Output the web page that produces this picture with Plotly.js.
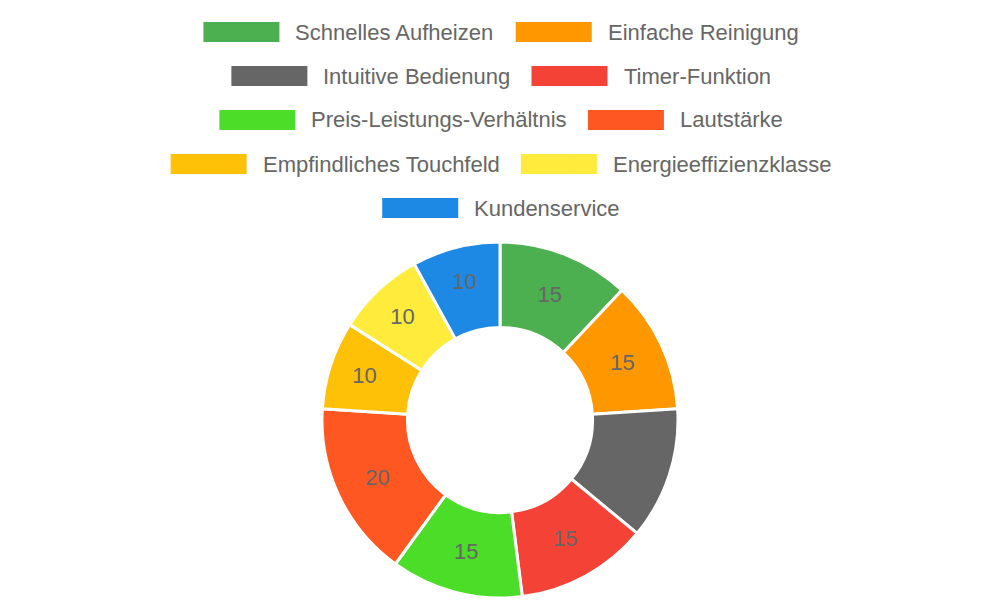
<!DOCTYPE html>
<html>
<head>
<meta charset="utf-8">
<script src="https://cdn.plot.ly/plotly-3.0.1.min.js"></script>
<style>html,body{margin:0;padding:0;background:#fff}#chart{width:1000px;height:600px}</style>
</head>
<body>
<div id="chart"></div>
<script>
var labels = ['Schnelles Aufheizen', 'Einfache Reinigung', 'Intuitive Bedienung', 'Timer-Funktion',
  'Preis-Leistungs-Verhältnis', 'Lautstärke', 'Empfindliches Touchfeld', 'Energieeffizienzklasse', 'Kundenservice'];
var values = [15, 15, 15, 15, 15, 20, 10, 10, 10];
var colors = ['#4CAF50', '#FF9800', '#666666', '#F44336', '#4CDD28', '#FF5722', '#FFC107', '#FFEB3B', '#1E88E5'];

var W = 1000, H = 600;
var font = '22px "Liberation Sans", Arial, sans-serif';
var ctx = document.createElement('canvas').getContext('2d');
ctx.font = font;

// legend: 2 items per row, centered
var shapes = [], annotations = [];
var rectW = 76, rectH = 20, gapText = 14, gapItem = 23, rowH = 44, firstRow = 32;
for (var r = 0; r * 2 < labels.length; r++) {
  var items = labels.slice(r * 2, r * 2 + 2);
  var widths = items.map(function (t) { return rectW + gapText + ctx.measureText(t).width; });
  var total = widths.reduce(function (a, b) { return a + b; }, 0) + gapItem * (items.length - 1);
  var x = (W - total) / 2;
  var yc = firstRow + r * rowH;
  items.forEach(function (t, k) {
    var i = r * 2 + k;
    shapes.push({type: 'rect', xref: 'paper', yref: 'paper',
      x0: x / W, x1: (x + rectW) / W, y0: 1 - (yc + rectH / 2) / H, y1: 1 - (yc - rectH / 2) / H,
      fillcolor: colors[i], line: {width: 0}});
    annotations.push({xref: 'paper', yref: 'paper', x: (x + rectW + gapText) / W, y: 1 - yc / H,
      xanchor: 'left', yanchor: 'middle', showarrow: false, text: t,
      font: {family: 'Liberation Sans, Arial, sans-serif', size: 22, color: '#666'}});
    x += widths[k] + gapItem;
  });
}

var data = [{
  type: 'pie',
  labels: labels,
  values: values,
  sort: false,
  direction: 'clockwise',
  rotation: 0,
  hole: 0.52,
  marker: {colors: colors, line: {color: '#fff', width: 3}},
  textinfo: 'value',
  textposition: 'inside',
  insidetextorientation: 'horizontal',
  textfont: {family: 'Liberation Sans, Arial, sans-serif', size: 22, color: '#666'},
  domain: {x: [0.322, 0.678], y: [0.003, 0.597]},
  showlegend: false
}];

var layout = {
  width: W, height: H,
  margin: {l: 0, r: 0, t: 0, b: 0},
  paper_bgcolor: '#fff',
  showlegend: false,
  shapes: shapes,
  annotations: annotations
};

Plotly.newPlot('chart', data, layout, {displayModeBar: false, staticPlot: true});
</script>
</body>
</html>
